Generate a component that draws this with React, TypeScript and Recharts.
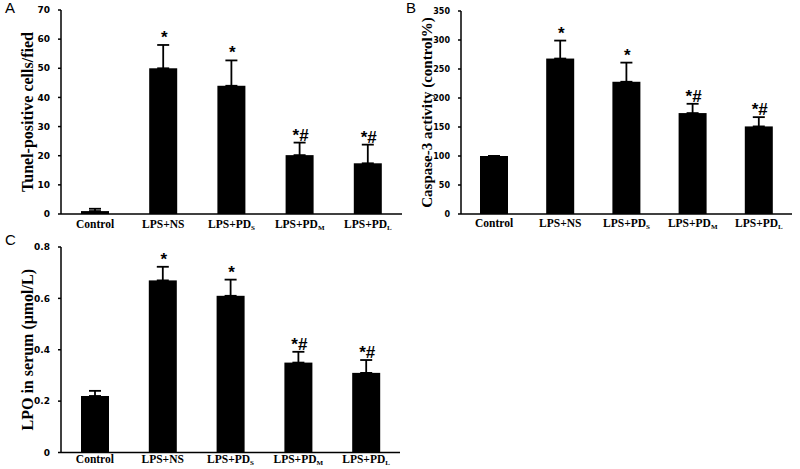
import { BarChart, Bar, XAxis, YAxis, ErrorBar } from "recharts";

// groups on the x axis ("_" marks a subscript)
const categories = ["Control", "LPS+NS", "LPS+PD_S", "LPS+PD_M", "LPS+PD_L"];
const marks = ["", "*", "*", "*#", "*#"];

// A: tunel-positive cells
const tunelValues = [1, 50, 44, 20.2, 17.4];
const tunelErrors = [0.8, 8, 8.7, 4.3, 6.4];
const tunelTicks = [0, 10, 20, 30, 40, 50, 60, 70];

// B: caspase-3 activity
const caspaseValues = [100, 268, 228, 174, 151];
const caspaseErrors = [0, 31, 33, 16, 16];
const caspaseTicks = [0, 50, 100, 150, 200, 250, 300, 350];

// C: LPO in serum
const lpoValues = [0.22, 0.67, 0.61, 0.35, 0.31];
const lpoErrors = [0.02, 0.053, 0.063, 0.042, 0.05];
const lpoTicks = [0, 0.2, 0.4, 0.6, 0.8];

const serif = "'Liberation Serif', 'Times New Roman', serif";
const sans = "'Liberation Sans', Arial, sans-serif";

function buildRows(values: number[], errors: number[]) {
	return categories.map((name, i) => ({
		name,
		value: values[i],
		err: [0, errors[i]],
		mark: marks[i],
	}));
}

function CategoryTick({ x, y, payload, dy }: any) {
	const [main, sub] = String(payload.value).split("_");
	return (
		<text
			x={x}
			y={y + dy}
			textAnchor="middle"
			fontFamily={serif}
			fontWeight="bold"
			fontSize={11.5}
			fill="#000"
		>
			{main}
			{sub && (
				<tspan fontSize={7} dy={2}>
					{sub}
				</tspan>
			)}
		</text>
	);
}

// bar plus the significance mark above its error bar
function MarkedBar(props: any) {
	const { x, y, width, height, payload } = props;
	const errPx = payload.value ? (payload.err[1] / payload.value) * height : 0;
	return (
		<g>
			<rect x={x} y={y} width={width} height={height} fill="#000" />
			{payload.mark && (
				<text
					x={x + width / 2 + 1}
					y={y - errPx - 2}
					textAnchor="middle"
					fontFamily={sans}
					fontWeight="bold"
					fontSize={17}
					fill="#000"
				>
					{payload.mark}
				</text>
			)}
		</g>
	);
}

interface PanelProps {
	values: number[];
	errors: number[];
	ticks: number[];
	yLabel: string;
	yLabelFont: number;
	tickFont: number;
	width: number;
	height: number;
	margin: { top: number; right: number; bottom: number; left: number };
	xHeight: number;
	labelDy: number;
}

function Panel({
	values,
	errors,
	ticks,
	yLabel,
	yLabelFont,
	tickFont,
	width,
	height,
	margin,
	xHeight,
	labelDy,
}: PanelProps) {
	const data = buildRows(values, errors);
	return (
		<BarChart width={width} height={height} data={data} margin={margin}>
			<XAxis
				dataKey="name"
				interval={0}
				height={xHeight}
				tickLine={false}
				tickSize={0}
				tickMargin={0}
				axisLine={{ stroke: "#000", strokeWidth: 1.5 }}
				tick={<CategoryTick dy={labelDy} />}
			/>
			<YAxis
				width={60}
				domain={[ticks[0], ticks[ticks.length - 1]]}
				ticks={ticks}
				interval={0}
				tickSize={3}
				tickMargin={8}
				axisLine={{ stroke: "#000", strokeWidth: 1.5 }}
				tickLine={{ stroke: "#000", strokeWidth: 1.5 }}
				tick={{
					fontFamily: "'DejaVu Sans', sans-serif",
					fontWeight: "bold",
					fontSize: tickFont,
					fill: "#000",
				}}
				label={{
					value: yLabel,
					angle: -90,
					position: "insideLeft",
					offset: 26,
					style: {
						textAnchor: "middle",
						fontFamily: serif,
						fontWeight: "bold",
						fontSize: yLabelFont,
						fill: "#000",
					},
				}}
			/>
			<Bar
				dataKey="value"
				barSize={28}
				fill="#000"
				shape={<MarkedBar />}
				isAnimationActive={false}
			>
				<ErrorBar
					dataKey="err"
					direction="y"
					width={6}
					stroke="#000"
					strokeWidth={1.8}
					isAnimationActive={false}
				/>
			</Bar>
		</BarChart>
	);
}

const letterStyle: React.CSSProperties = {
	position: "absolute",
	fontFamily: sans,
	fontSize: 15,
	lineHeight: "15px",
	color: "#000",
};

export default function App() {
	return (
		<div
			style={{
				position: "absolute",
				left: 0,
				top: 0,
				width: 800,
				height: 469,
				background: "#fff",
				overflow: "hidden",
			}}
		>
			<div style={{ position: "absolute", left: 0, top: 0 }}>
				<Panel
					values={tunelValues}
					errors={tunelErrors}
					ticks={tunelTicks}
					yLabel="Tunel-positive cells/fied"
					yLabelFont={16}
					tickFont={9}
					width={405}
					height={235}
					margin={{ top: 10, right: 3, bottom: 0, left: 1 }}
					xHeight={21}
					labelDy={14}
				/>
			</div>
			<div style={{ position: "absolute", left: 400, top: 0 }}>
				<Panel
					values={caspaseValues}
					errors={caspaseErrors}
					ticks={caspaseTicks}
					yLabel="Caspase-3 activity (control%)"
					yLabelFont={15}
					tickFont={8}
					width={400}
					height={235}
					margin={{ top: 11, right: 8, bottom: 0, left: 1 }}
					xHeight={21}
					labelDy={13}
				/>
			</div>
			<div style={{ position: "absolute", left: 0, top: 220 }}>
				<Panel
					values={lpoValues}
					errors={lpoErrors}
					ticks={lpoTicks}
					yLabel="LPO in serum (μmol/L)"
					yLabelFont={16}
					tickFont={9}
					width={405}
					height={249}
					margin={{ top: 27, right: 5, bottom: 0, left: 1 }}
					xHeight={16.5}
					labelDy={10.5}
				/>
			</div>
			<div style={{ ...letterStyle, left: 5, top: 0 }}>A</div>
			<div style={{ ...letterStyle, left: 406, top: 0 }}>B</div>
			<div style={{ ...letterStyle, left: 5, top: 232 }}>C</div>
		</div>
	);
}
